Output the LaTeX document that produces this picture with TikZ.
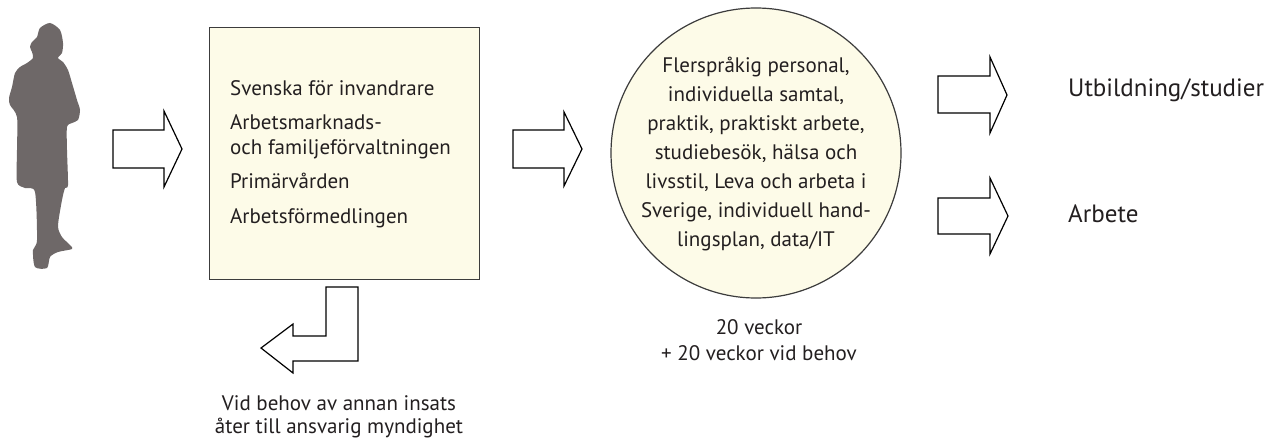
\documentclass[tikz,border=0pt]{standalone}
\usepackage{fontspec}
\setmainfont{PT Sans}
\definecolor{personfill}{RGB}{110,104,104}
\definecolor{boxfill}{RGB}{253,251,232}
\definecolor{boxline}{RGB}{60,60,60}
\definecolor{inktext}{RGB}{35,31,32}
\begin{document}
\begin{tikzpicture}[x=1pt,y=-1pt,
  blockarrow/.style={draw=black, fill=white, line width=1.2pt, line join=miter},
  txt/.style={font=\fontsize{21}{25}\selectfont, text=inktext, inner sep=0pt},
  bigtxt/.style={font=\fontsize{25}{30}\selectfont, text=inktext, inner sep=0pt},
]
\useasboundingbox (0,0) rectangle (1287,444);
\fill[white] (0,0) rectangle (1287,444);

% person silhouette
\fill[personfill] plot[smooth cycle, tension=0.45] coordinates {
 (50,23) (60,30) (63,43) (62,53) (58,58) (63,62) (68,70) (72,83) (77,100)
 (80,110) (78,120) (72,123) (67,127) (67,150) (68,185) (65,188) (62,200)
 (58,226) (62,237) (70,245) (72,249) (58,252) (50,257) (47,268) (35,267)
 (33,250) (37,240) (35,192) (25,188) (17,182) (17,150) (17,117) (10,105)
 (9,98) (12,87) (15,73) (20,67) (27,63) (33,58) (32,52) (30,47) (32,42)
 (37,37) (40,28)};

% box
\node[draw=boxline, fill=boxfill, line width=1.2pt, minimum width=270pt,
      minimum height=252pt, anchor=north west, inner sep=0pt] (box) at (209,27) {};
\node[txt, anchor=base west] (b1) at (230,95)  {Svenska för invandrare};
\node[txt, anchor=base west] (b2) at (230,129) {Arbetsmarknads-};
\node[txt, anchor=base west] (b3) at (230,154) {och familjeförvaltningen};
\node[txt, anchor=base west] (b4) at (230,188) {Primärvården};
\node[txt, anchor=base west] (b5) at (230,223) {Arbetsförmedlingen};

% circle
\node[draw=boxline, fill=boxfill, line width=1.2pt, circle, minimum size=290pt,
      inner sep=0pt] (circ) at (756,153) {};
\node[txt, anchor=base] (c1) at (756,72)  {Flerspråkig personal,};
\node[txt, anchor=base] (c2) at (756,101) {individuella samtal,};
\node[txt, anchor=base] (c3) at (756,130) {praktik, praktiskt arbete,};
\node[txt, anchor=base] (c4) at (756,159) {studiebesök, hälsa och};
\node[txt, anchor=base] (c5) at (756,188) {livsstil, Leva och arbeta i};
\node[txt, anchor=base] (c6) at (756,217) {Sverige, individuell hand-};
\node[txt, anchor=base] (c7) at (756,246) {lingsplan, data/IT};

\node[txt, anchor=base] (w1) at (759,334) {20 veckor};
\node[txt, anchor=base] (w2) at (759,360) {+ 20 veckor vid behov};

\node[txt, anchor=base] (v1) at (339,410) {Vid behov av annan insats};
\node[txt, anchor=base] (v2) at (339,433) {åter till ansvarig myndighet};

\node[bigtxt, anchor=base west] (r1) at (1068,96)  {Utbildning/studier};
\node[bigtxt, anchor=base west] (r2) at (1068,222) {Arbete};

% block arrows
\draw[blockarrow] (113,130) -- (164,130) -- (164,111) -- (182,149) -- (164,187)
  -- (164,168) -- (113,168) -- cycle;
\draw[blockarrow] (513,130) -- (564,130) -- (564,112) -- (582,149) -- (564,186)
  -- (564,168) -- (513,168) -- cycle;
\draw[blockarrow] (938,76) -- (990,76) -- (990,57) -- (1007,95) -- (990,133)
  -- (990,113) -- (938,113) -- cycle;
\draw[blockarrow] (938,198) -- (990,198) -- (990,178) -- (1008,216) -- (990,254)
  -- (990,234) -- (938,234) -- cycle;
% bent return arrow
\draw[blockarrow] (326,287) -- (358,287) -- (358,361) -- (293,361) -- (293,373)
  -- (261,348) -- (293,324) -- (293,336) -- (326,336) -- cycle;
\end{tikzpicture}
\end{document}
